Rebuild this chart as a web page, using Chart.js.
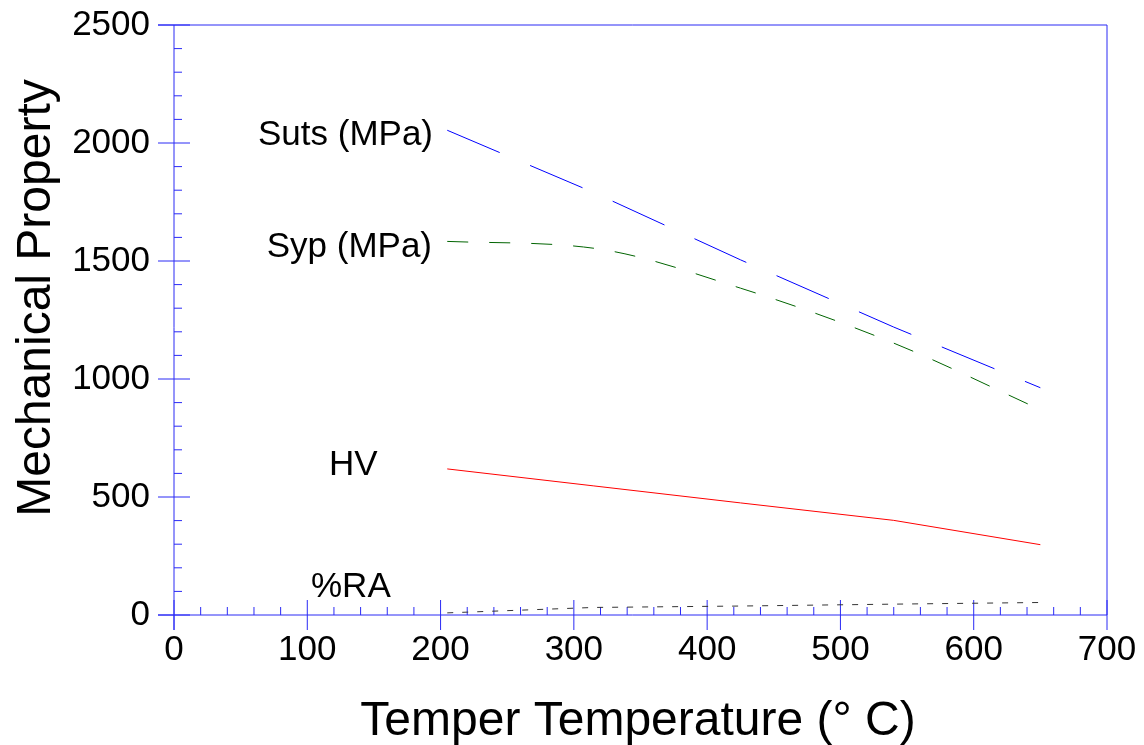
<!DOCTYPE html>
<html>
<head>
<meta charset="utf-8">
<script src="https://cdn.jsdelivr.net/npm/chart.js@4.4.0/dist/chart.umd.min.js"></script>
<style>
html,body{margin:0;padding:0;background:#fff;}
canvas{display:block;}
</style>
</head>
<body>
<canvas id="c" width="1144" height="745"></canvas>
<script>
// ---- data ----
const temps = [205, 315, 425, 540, 650];
const suts  = [2054, 1790, 1505, 1220, 963];
const syp   = [1583, 1554, 1385, 1152, 870];
const hv    = [619, 547, 475, 401, 298];
const ra    = [9, 32, 38, 46, 53];
const xTicks = [0, 100, 200, 300, 400, 500, 600, 700];
const yTicks = [0, 500, 1000, 1500, 2000, 2500];
const seriesLabels = ['Suts (MPa)', 'Syp (MPa)', 'HV', '%RA'];
const xTitle = 'Temper Temperature (\u00B0 C)';
const yTitle = 'Mechanical Property';

const FONT = '"Liberation Sans", Arial, Helvetica, sans-serif';
const pts = arr => temps.map((t, i) => ({x: t, y: arr[i]}));

const axisPlugin = {
  id: 'axisPlugin',
  beforeDatasetsDraw(chart) {
    const ctx = chart.ctx;
    const xs = chart.scales.x, ys = chart.scales.y;
    const L = xs.getPixelForValue(0), R = xs.getPixelForValue(700);
    const B = ys.getPixelForValue(0), T = ys.getPixelForValue(2500);
    ctx.save();
    ctx.strokeStyle = '#2a2af5';
    ctx.lineWidth = 1;
    ctx.beginPath();
    ctx.moveTo(L - 16, T); ctx.lineTo(R, T); ctx.lineTo(R, B);
    ctx.moveTo(L - 16, B); ctx.lineTo(R, B);
    ctx.moveTo(L, T); ctx.lineTo(L, B + 15);
    for (let v = 0; v <= 2500; v += 100) {
      const p = ys.getPixelForValue(v);
      if (v % 500 === 0) { ctx.moveTo(L - 16, p); ctx.lineTo(L + 16, p); }
      else { ctx.moveTo(L, p); ctx.lineTo(L + 8, p); }
    }
    for (let v = 0; v <= 700; v += 20) {
      const p = xs.getPixelForValue(v);
      if (v % 100 === 0) { ctx.moveTo(p, B - 15); ctx.lineTo(p, B + 15); }
      else { ctx.moveTo(p, B); ctx.lineTo(p, B - 8); }
    }
    ctx.stroke();
    ctx.restore();
  },
  afterDraw(chart) {
    const ctx = chart.ctx;
    ctx.save();
    ctx.fillStyle = '#000';
    ctx.font = '48px ' + FONT;
    ctx.textAlign = 'center';
    ctx.textBaseline = 'alphabetic';
    ctx.fillText(xTitle, 638, 735);
    ctx.translate(50, 298);
    ctx.rotate(-Math.PI / 2);
    ctx.fillText(yTitle, 0, 0);
    ctx.restore();
    ctx.save();
    ctx.fillStyle = '#000';
    ctx.font = '35px ' + FONT;
    ctx.textBaseline = 'alphabetic';
    ctx.textAlign = 'right';
    ctx.fillText(seriesLabels[0], 433, 145);
    ctx.fillText(seriesLabels[1], 432, 257);
    ctx.textAlign = 'left';
    ctx.fillText(seriesLabels[2], 329, 475);
    ctx.fillText(seriesLabels[3], 311, 597);
    ctx.restore();
  }
};

new Chart(document.getElementById('c'), {
  type: 'line',
  data: {
    datasets: [
      {label: seriesLabels[0], data: pts(suts), borderColor: '#0000ff', borderWidth: 1, borderDash: [57, 33], pointRadius: 0, tension: 0},
      {label: seriesLabels[1], data: pts(syp), borderColor: '#006400', borderWidth: 1, borderDash: [21, 21], pointRadius: 0, cubicInterpolationMode: 'monotone'},
      {label: seriesLabels[2], data: pts(hv), borderColor: '#ff0000', borderWidth: 1, pointRadius: 0, tension: 0},
      {label: seriesLabels[3], data: pts(ra), borderColor: '#333333', borderWidth: 1, borderDash: [6, 9], pointRadius: 0, tension: 0}
    ]
  },
  options: {
    responsive: false,
    animation: false,
    layout: {padding: {top: 25, right: 37, left: 0, bottom: 0}},
    plugins: {legend: {display: false}, tooltip: {enabled: false}},
    scales: {
      x: {
        type: 'linear', min: 0, max: 700,
        afterBuildTicks: s => { s.ticks = xTicks.map(v => ({value: v})); },
        ticks: {font: {size: 35, family: FONT}, color: '#000', padding: 14, maxRotation: 0, autoSkip: false, callback: v => String(v)},
        grid: {display: false, drawTicks: false},
        border: {display: false},
        afterFit: s => { s.height = 130; s.paddingLeft = 0; s.paddingRight = 0; }
      },
      y: {
        type: 'linear', min: 0, max: 2500,
        afterBuildTicks: s => { s.ticks = yTicks.map(v => ({value: v})); },
        ticks: {font: {size: 35, family: FONT}, color: '#000', padding: 24, autoSkip: false, callback: v => String(v)},
        grid: {display: false, drawTicks: false},
        border: {display: false},
        afterFit: s => { s.width = 174; s.paddingTop = 0; s.paddingBottom = 0; }
      }
    }
  },
  plugins: [axisPlugin]
});
</script>
</body>
</html>
